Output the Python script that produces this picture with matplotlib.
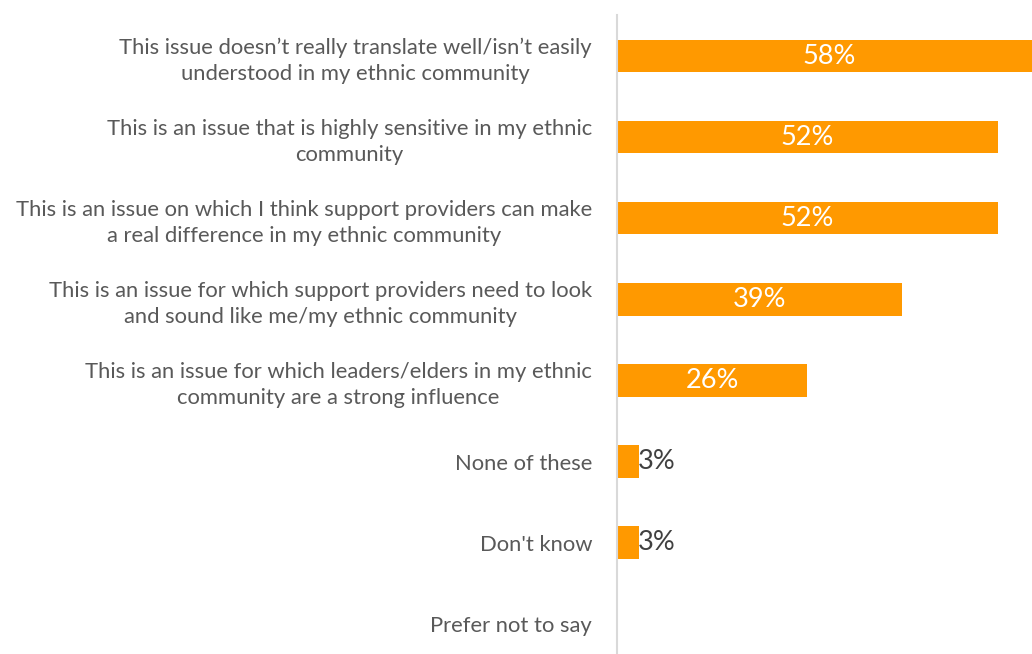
import matplotlib
matplotlib.use("Agg")
import matplotlib.pyplot as plt

categories = [
    "This issue doesn\u2019t really translate well/isn\u2019t easily\nunderstood in my ethnic community",
    "This is an issue that is highly sensitive in my ethnic\ncommunity",
    "This is an issue on which I think support providers can make\na real difference in my ethnic community",
    "This is an issue for which support providers need to look\nand sound like me/my ethnic community",
    "This is an issue for which leaders/elders in my ethnic\ncommunity are a strong influence",
    "None of these",
    "Don't know",
    "Prefer not to say",
]
values = [58, 52, 52, 39, 26, 3, 3, 0]

plt.rcParams['font.family'] = ['Lato', 'DejaVu Sans']

W, H = 1032, 654
fig = plt.figure(figsize=(W / 100, H / 100), dpi=100)

# axes runs off the right and bottom edges, so the longest bar gets clipped
px_per_pct = 7.32
x0 = 617
xmax = 60
row = 81.1
top = 15.5
n = len(categories)
ax = fig.add_axes([x0 / W, 1 - (top + n * row) / H,
                   xmax * px_per_pct / W, n * row / H])

ypos = list(range(n))
ax.barh(ypos, values, height=0.4, color="#FF9900")
ax.set_xlim(0, xmax)
ax.set_ylim(n - 0.5, -0.5)

for y, v in zip(ypos, values):
    if v >= 10:
        ax.text(v / 2, y, f"{v}%", ha="center", va="center",
                color="white", fontsize=19.5)
    elif v > 0:
        ax.text(v - 0.1, y, f"{v}%", ha="left", va="center",
                color="#404040", fontsize=19.5)

ax.set_yticks(ypos)
ax.set_yticklabels(categories, fontsize=15.8, color="#595959")
for lbl in ax.get_yticklabels():
    lbl.set_multialignment("center")
    lbl.set_linespacing(1.35)
ax.tick_params(axis="y", length=0, pad=18)
ax.set_xticks([])

for s in ["top", "right", "bottom"]:
    ax.spines[s].set_visible(False)
ax.spines["left"].set_color("#D9D9D9")
ax.spines["left"].set_linewidth(1.5)

fig.savefig("out.png", dpi=100)
